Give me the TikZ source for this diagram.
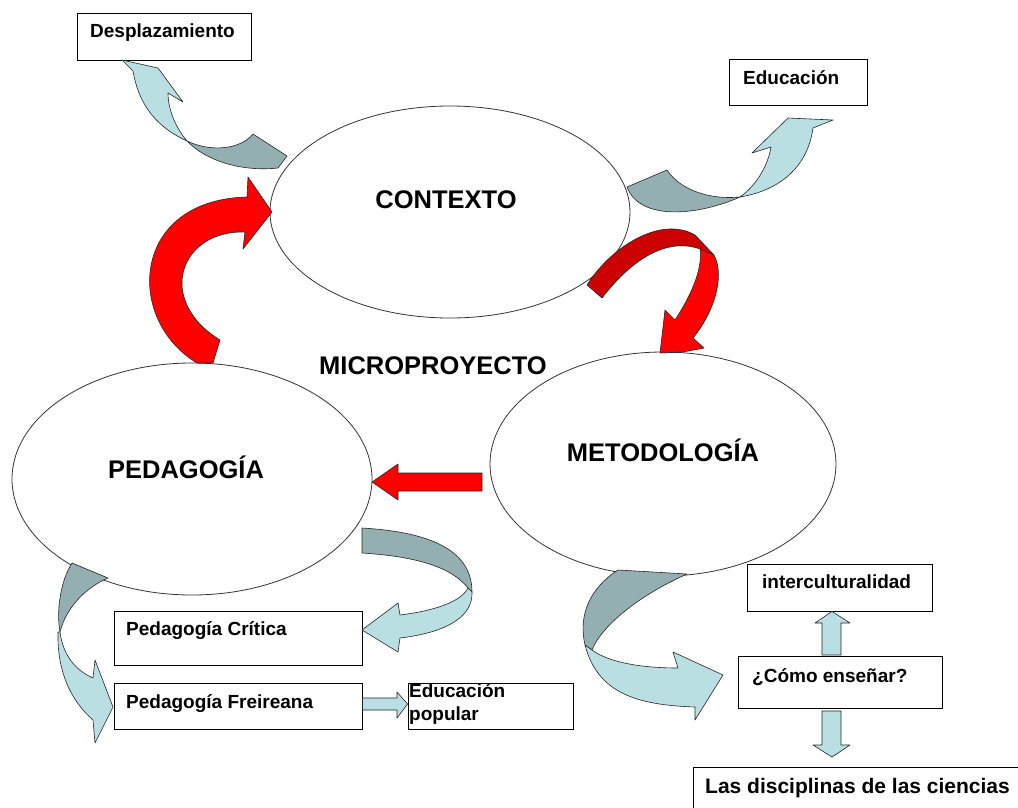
\documentclass[tikz,border=0pt]{standalone}
\usepackage{fontspec}
\setmainfont{Liberation Sans}
\usetikzlibrary{shapes.geometric}
\definecolor{lightb}{RGB}{185,223,227}
\definecolor{darkb}{RGB}{147,175,177}
\definecolor{redA}{RGB}{255,0,0}
\definecolor{redB}{RGB}{204,0,0}
\tikzset{
 ell/.style={ellipse, draw=black!80, line width=0.8pt, inner sep=0pt},
 bx/.style={rectangle, draw=black, line width=0.9pt, inner sep=0pt, fill=white},
 big/.style={font=\fontsize{25.5}{30}\selectfont\bfseries, inner sep=0pt},
 lbl/.style={font=\fontsize{19}{22}\selectfont\bfseries, inner sep=0pt, anchor=base west},
 lt/.style={fill=lightb, draw=black!85, line width=0.6pt, line join=round},
 dk/.style={fill=darkb, draw=black!85, line width=0.6pt, line join=round},
 rd/.style={fill=redA, draw=black!85, line width=0.6pt, line join=round},
 rdd/.style={fill=redB, draw=black!85, line width=0.6pt, line join=round},
}
\begin{document}
\begin{tikzpicture}[x=1pt,y=-1pt]
\useasboundingbox (0,0) rectangle (1018,807);
\clip (0,0) rectangle (1018,807);
\fill[white] (0,0) rectangle (1018,807);

% ellipses
\node[ell, minimum width=360pt, minimum height=212pt] (ctx) at (450,212) {};
\node[ell, minimum width=360pt, minimum height=232pt] (ped) at (192,479) {};
\node[ell, minimum width=346pt, minimum height=224pt] (met) at (663,464) {};

\node[big] (tctx) at (446,200) {CONTEXTO};
\node[big] (tmic) at (433,366) {MICROPROYECTO};
\node[big] (tped) at (186,467) {PEDAGOGÍA};
\node[big] (tmet) at (663,450) {METODOLOGÍA};

% boxes
\node[bx, minimum width=174pt, minimum height=47pt] (desp) at (164,36.5) {};
\node[bx, minimum width=138pt, minimum height=46pt] (edu) at (798,82) {};
\node[bx, minimum width=248pt, minimum height=54pt] (crit) at (238,638) {};
\node[bx, minimum width=248pt, minimum height=46pt] (frei) at (238,706) {};
\node[bx, minimum width=165pt, minimum height=46pt] (pop) at (490.5,706) {};
\node[bx, minimum width=185pt, minimum height=47pt] (inter) at (839.5,587.5) {};
\node[bx, minimum width=204pt, minimum height=52pt] (como) at (840,682) {};
\node[bx, minimum width=337pt, minimum height=63pt] (las) at (861.5,798.5) {};

\node[lbl] (tdesp) at (90,37) {Desplazamiento};
\node[lbl] (tedu) at (743,84) {Educación};
\node[lbl] (tcrit) at (126,635) {Pedagogía Crítica};
\node[lbl] (tfrei) at (126,708) {Pedagogía Freireana};
\node[lbl] (tpop1) at (409,697) {Educación};
\node[lbl] (tpop2) at (409,720) {popular};
\node[lbl] (tinter) at (762,588) {interculturalidad};
\node[lbl] (tcomo) at (752,682) {¿Cómo enseñar?};
\node[lbl, font=\fontsize{21}{24}\selectfont\bfseries] (tlas) at (705,793) {Las disciplinas de las ciencias};

% red arrow PEDAGOGIA -> CONTEXTO
\draw[rd] (197,363) .. controls (125,320) and (130,200) .. (247,197) -- (248,177) -- (272,212) -- (243,249) -- (245,232)
  .. controls (180,230) and (155,300) .. (220,340) -- (213,363) -- cycle;

% red arrow CONTEXTO -> METODOLOGIA
\draw[rdd] (587,285) .. controls (610,248) and (660,215) .. (695,235) -- (714,255) -- (700,249)
  .. controls (670,238) and (635,255) .. (602,298) -- cycle;
\draw[rd] (700,249) -- (714,255) .. controls (726,278) and (712,315) .. (693,338) -- (704,348) -- (683,352) -- (660,353)
  -- (665,310) -- (675,320) .. controls (690,297) and (703,270) .. (700,249) -- cycle;

% red arrow METODOLOGIA -> PEDAGOGIA
\draw[rd] (482,473) -- (398,473) -- (398,464) -- (372,482) -- (398,500) -- (398,491) -- (482,491) -- cycle;

% CONTEXTO -> Desplazamiento
\draw[dk] (187,141) .. controls (210,152) and (240,150) .. (253,134) -- (287,156) -- (278,168)
  .. controls (240,172) and (205,160) .. (187,141) -- cycle;
\draw[lt] (187,141) .. controls (176,128) and (168,110) .. (168,93) -- (183,102) -- (158,68) -- (122,60) -- (133,71)
  .. controls (138,100) and (152,125) .. (187,141) -- cycle;

% CONTEXTO -> Educacion
\draw[dk] (627,187) -- (667,170) .. controls (680,190) and (710,200) .. (740,197)
  .. controls (700,215) and (640,222) .. (627,187) -- cycle;
\draw[lt] (740,197) .. controls (757,185) and (768,165) .. (771,147) -- (752,153) -- (788,118) -- (833,120) -- (813,128)
  .. controls (808,165) and (782,190) .. (740,197) -- cycle;

% PEDAGOGIA -> Pedagogia Critica
\draw[dk] (362,528) .. controls (430,532) and (472,550) .. (472,592) -- (468,588)
  .. controls (450,565) and (410,556) .. (362,553) -- cycle;
\draw[lt] (468,588) .. controls (462,600) and (440,610) .. (400,615) -- (398,603) -- (362,630) -- (398,652) -- (400,638)
  .. controls (450,632) and (473,615) .. (472,592) -- cycle;

% PEDAGOGIA -> Pedagogia Freireana
\draw[dk] (72,563) -- (108,578) .. controls (85,588) and (66,608) .. (60,632)
  .. controls (56,610) and (61,580) .. (72,563) -- cycle;
\draw[lt] (60,632) .. controls (63,655) and (75,670) .. (93,678) -- (95,660) -- (113,707) -- (95,743) -- (93,720)
  .. controls (70,700) and (57,670) .. (58,632) -- cycle;

% METODOLOGIA -> Como ensenar
\draw[dk] (618,570) -- (687,574) .. controls (640,595) and (602,625) .. (592,650) -- (585,645)
  .. controls (578,615) and (590,588) .. (618,570) -- cycle;
\draw[lt] (592,650) .. controls (608,662) and (640,668) .. (678,668) -- (673,652) -- (723,675) -- (695,720) -- (695,707)
  .. controls (640,705) and (598,695) .. (585,645) -- cycle;

% Freireana -> Educacion popular
\draw[lt] (frei.east |- 0,698) -- (397,698) -- (397,692) -- (pop.west |- 0,704) -- (397,718) -- (397,710) -- (frei.east |- 0,710) -- cycle;

% Como -> interculturalidad
\draw[lt] (822,655) -- (822,623) -- (815,623) -- (inter.south -| 832,0) -- (850,623) -- (841,623) -- (841,655) -- cycle;
% Como -> Las disciplinas
\draw[lt] (822,711) -- (822,745) -- (813,745) -- (832,757) -- (850,745) -- (841,745) -- (841,711) -- cycle;

\end{tikzpicture}
\end{document}
